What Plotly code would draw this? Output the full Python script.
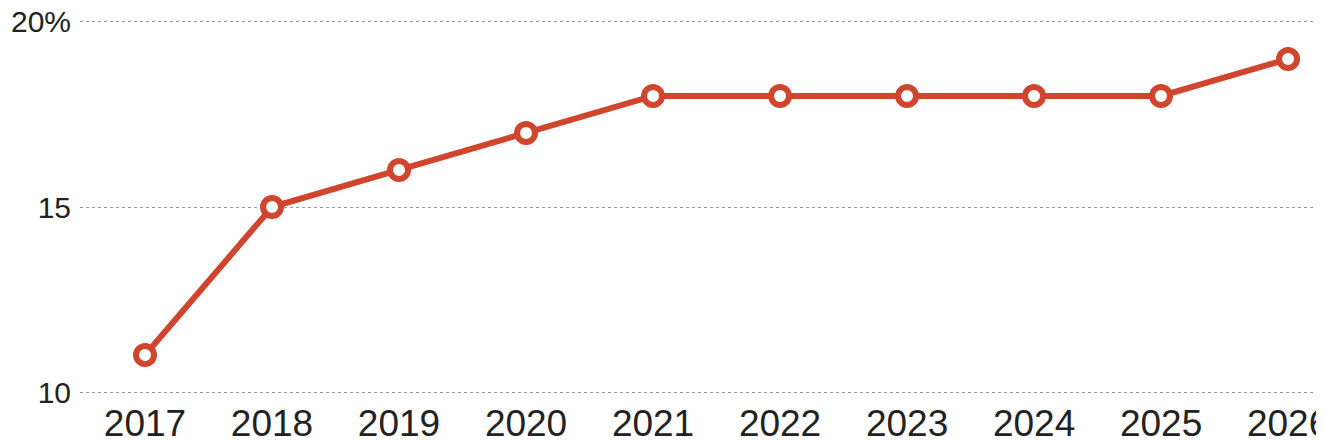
import plotly.graph_objects as go

years = [2017, 2018, 2019, 2020, 2021, 2022, 2023, 2024, 2025, 2026]
values = [11, 15, 16, 17, 18, 18, 18, 18, 18, 19]
y_ticks = [10, 15, 20]
y_tick_labels = ["10", "15", "20%"]

red = "#d0452d"

fig = go.Figure()
fig.add_trace(go.Scatter(
    x=years, y=values, mode="lines+markers",
    line=dict(color=red, width=6),
    marker=dict(size=18, color="white", line=dict(color=red, width=6)),
    hoverinfo="x+y",
    cliponaxis=False,
))

# page body has an 8px default margin; figure sized to fill the rest
fig.update_layout(
    width=1316, height=435,
    margin=dict(l=72, r=0, t=0, b=45, autoexpand=False),
    paper_bgcolor="white", plot_bgcolor="white",
    showlegend=False,
    font=dict(family="Liberation Sans, Arial, sans-serif", color="#222"),
    xaxis=dict(
        range=[2016.488, 2026.283],
        tickvals=years,
        ticktext=[str(y) for y in years],
        showgrid=False, zeroline=False, showline=False,
        ticks="", tickfont=dict(size=37),
        ticklabeloverflow="allow", automargin=False,
    ),
    yaxis=dict(
        range=[9.838, 20.378],
        tickvals=y_ticks, ticktext=y_tick_labels,
        showgrid=True, gridcolor="#9a9a9a", gridwidth=1, griddash="dot",
        zeroline=False, showline=False, ticks="",
        tickfont=dict(size=30), ticklabelstandoff=8,
        ticklabeloverflow="allow", automargin=False,
    ),
)

fig.write_html("out.html")
